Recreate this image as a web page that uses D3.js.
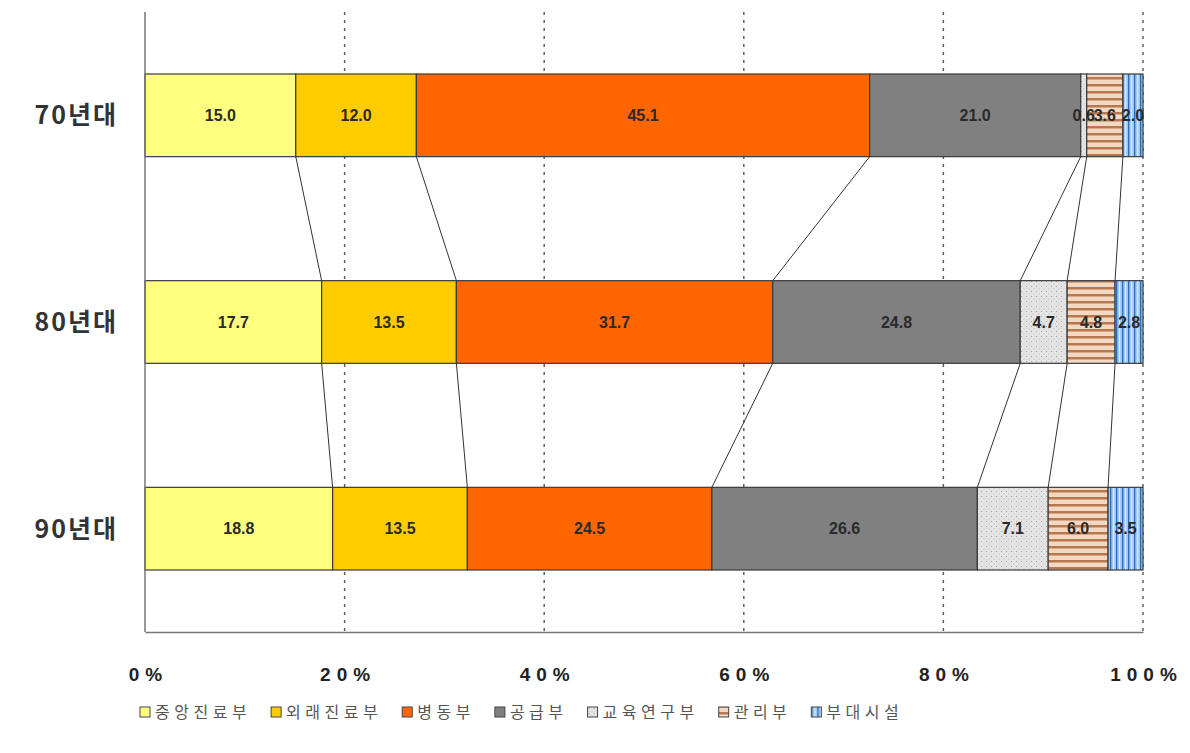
<!DOCTYPE html>
<html lang="ko">
<head>
<meta charset="utf-8">
<script src="https://cdn.jsdelivr.net/npm/d3@7"></script>
<style>
  html, body { margin: 0; padding: 0; background: #fff; }
  svg { display: block; }
  text { font-family: "Liberation Sans", "Noto Sans CJK KR", sans-serif; }
  .kr { font-family: "Noto Sans CJK KR", sans-serif; }
</style>
</head>
<body>
<svg id="chart" width="1190" height="753"></svg>
<script>
// Periods (categories) and department names
const periods = ["70년대", "80년대", "90년대"];
const departments = ["중앙진료부", "외래진료부", "병동부", "공급부", "교육연구부", "관리부", "부대시설"];

// Share of floor area by department (%), one array per department
const central    = [15.0, 17.7, 18.8];
const outpatient = [12.0, 13.5, 13.5];
const ward       = [45.1, 31.7, 24.5];
const supply     = [21.0, 24.8, 26.6];
const education  = [0.6, 4.7, 7.1];
const management = [3.6, 4.8, 6.0];
const facility   = [2.0, 2.8, 3.5];

// Axis tick labels
const tickValues = [0, 0.2, 0.4, 0.6, 0.8, 1.0];
const tickLabels = ["0%", "20%", "40%", "60%", "80%", "100%"];

const seriesValues = [central, outpatient, ward, supply, education, management, facility];
const rows = periods.map((p, i) => {
  const r = { period: p };
  departments.forEach((d, k) => { r[d] = seriesValues[k][i]; });
  return r;
});

const svg = d3.select("#chart");
const defs = svg.append("defs");

// Fill patterns
const pEdu = defs.append("pattern").attr("id", "pat-edu")
  .attr("patternUnits", "userSpaceOnUse").attr("width", 5).attr("height", 5);
pEdu.append("rect").attr("width", 5).attr("height", 5).attr("fill", "#e4e4e4");
pEdu.append("rect").attr("x", 1).attr("y", 1).attr("width", 1).attr("height", 1).attr("fill", "#a8a8a8");
pEdu.append("rect").attr("x", 3.5).attr("y", 3.5).attr("width", 1).attr("height", 1).attr("fill", "#c0c0c0");

const pMgmt = defs.append("pattern").attr("id", "pat-mgmt")
  .attr("patternUnits", "userSpaceOnUse").attr("width", 8).attr("height", 7);
pMgmt.append("rect").attr("width", 8).attr("height", 7).attr("fill", "#f3d9c4");
pMgmt.append("rect").attr("y", 0).attr("width", 8).attr("height", 2.5).attr("fill", "#b8784f");

const pFac = defs.append("pattern").attr("id", "pat-fac")
  .attr("patternUnits", "userSpaceOnUse").attr("width", 6).attr("height", 8);
pFac.append("rect").attr("width", 6).attr("height", 8).attr("fill", "#9cc9f2");
pFac.append("rect").attr("x", 0).attr("width", 1.3).attr("height", 8).attr("fill", "#2f6cb8");
pFac.append("rect").attr("x", 3).attr("width", 1.2).attr("height", 8).attr("fill", "#d8ecff");

const fills = ["#ffff80", "#ffcc00", "#ff6600", "#808080", "url(#pat-edu)", "url(#pat-mgmt)", "url(#pat-fac)"];

// Plot area
const plotLeft = 145, plotRight = 1143, plotTop = 12, plotBottom = 632;
const x = d3.scaleLinear().domain([0, 1]).range([plotLeft, plotRight]);
const y = d3.scaleBand().domain(periods).range([plotTop, plotBottom]).paddingInner(0.6).paddingOuter(0.3);

// Vertical gridlines
svg.append("g").selectAll("line").data(tickValues.slice(1)).join("line")
  .attr("x1", d => x(d)).attr("x2", d => x(d))
  .attr("y1", plotTop).attr("y2", plotBottom)
  .attr("stroke", "#555").attr("stroke-width", 1.4).attr("stroke-dasharray", "3,5");

// 100% stacked layout
const stacked = d3.stack().keys(departments).offset(d3.stackOffsetExpand)(rows);

// Series lines connecting segment boundaries between bars
const bw = y.bandwidth();
const links = [];
stacked.slice(0, -1).forEach(s => {
  for (let i = 0; i < periods.length - 1; i++) {
    links.push({ x1: x(s[i][1]), y1: y(periods[i]) + bw, x2: x(s[i + 1][1]), y2: y(periods[i + 1]) });
  }
});
svg.append("g").selectAll("line").data(links).join("line")
  .attr("x1", d => d.x1).attr("y1", d => d.y1)
  .attr("x2", d => d.x2).attr("y2", d => d.y2)
  .attr("stroke", "#333").attr("stroke-width", 1);

// Bars
const layers = svg.append("g").selectAll("g").data(stacked).join("g")
  .attr("fill", (d, k) => fills[k]);
layers.selectAll("rect").data(d => d).join("rect")
  .attr("x", d => x(d[0]))
  .attr("y", d => y(d.data.period))
  .attr("width", d => x(d[1]) - x(d[0]))
  .attr("height", bw)
  .attr("stroke", "#3a3a3a").attr("stroke-width", 1.2);

// Data labels
stacked.forEach((s, k) => {
  svg.append("g").selectAll("text").data(s).join("text")
    .attr("x", d => (x(d[0]) + x(d[1])) / 2)
    .attr("y", d => y(d.data.period) + bw / 2)
    .attr("dy", "0.36em")
    .attr("text-anchor", "middle")
    .attr("font-size", 16).attr("font-weight", "bold")
    .attr("fill", "#2a2a2a")
    .text(d => d.data[departments[k]].toFixed(1));
});

// Axes
svg.append("line").attr("x1", plotLeft).attr("x2", plotLeft).attr("y1", plotTop).attr("y2", plotBottom)
  .attr("stroke", "#777").attr("stroke-width", 1.5);

const xAxis = d3.axisBottom(x).tickValues(tickValues)
  .tickFormat((d, i) => tickLabels[i]).tickSize(0).tickPadding(36);
const gx = svg.append("g").attr("transform", `translate(0,${plotBottom})`).call(xAxis);
gx.select(".domain").attr("stroke", "#777").attr("stroke-width", 1.5);
gx.selectAll("text")
  .attr("font-size", 19).attr("font-weight", "bold").attr("fill", "#222")
  .attr("letter-spacing", "6px")
  .attr("font-family", "'Liberation Sans', sans-serif")
  .attr("dx", "3px");

// Category labels
svg.append("g").selectAll("text").data(periods).join("text")
  .attr("class", "kr")
  .attr("x", 118)
  .attr("y", d => y(d) + bw / 2)
  .attr("dy", "0.36em")
  .attr("text-anchor", "end")
  .attr("font-size", 25).attr("font-weight", 600)
  .attr("fill", "#333")
  .attr("letter-spacing", "2px")
  .text(d => d);

// Legend
const legend = svg.append("g").attr("transform", "translate(140,712)");
let lx = 0;
departments.forEach((d, k) => {
  const g = legend.append("g").attr("transform", `translate(${lx},0)`);
  g.append("rect").attr("x", 0).attr("y", -5).attr("width", 10).attr("height", 10)
    .attr("fill", fills[k]).attr("stroke", "#444").attr("stroke-width", 1);
  const t = g.append("text").attr("class", "kr")
    .attr("x", 15).attr("y", 0).attr("dy", "0.36em")
    .attr("font-size", 16).attr("fill", "#555").attr("letter-spacing", "4.5px")
    .text(d);
  lx += 15 + t.node().getComputedTextLength() + 20;
});
</script>
</body>
</html>
